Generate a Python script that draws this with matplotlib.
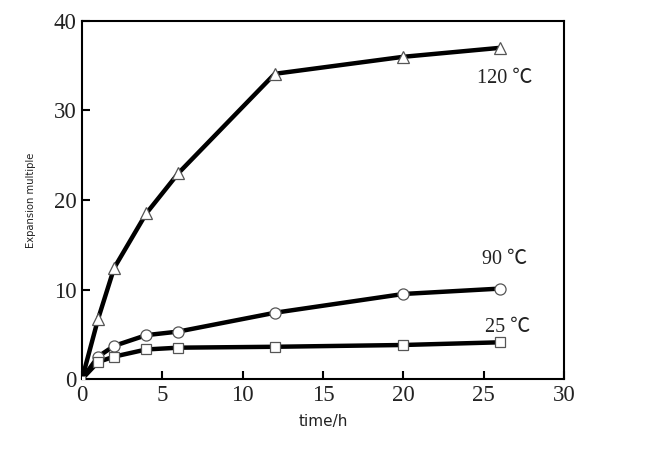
import matplotlib
matplotlib.use("Agg")
import matplotlib.pyplot as plt

time_h = [0, 1, 2, 4, 6, 12, 20, 26]
exp_120 = [0, 6.7, 12.4, 18.5, 23.0, 34.1, 36.0, 37.0]
exp_90 = [0, 2.5, 3.7, 4.9, 5.3, 7.4, 9.5, 10.1]
exp_25 = [0, 1.9, 2.5, 3.3, 3.5, 3.6, 3.8, 4.1]
labels = ["120 ℃", "90 ℃", "25 ℃"]
xticks = [0, 5, 10, 15, 20, 25, 30]
yticks = [0, 10, 20, 30, 40]

fig = plt.figure(figsize=(6.55, 4.55), dpi=100)
ax = fig.add_axes([82/655, 1-379/455, (564-82)/655, (379-21)/455])

serif = ["Liberation Serif", "Noto Sans CJK SC", "DejaVu Sans"]
for y, m, ms in [(exp_120, "^", 8), (exp_90, "o", 8), (exp_25, "s", 7)]:
    ax.plot(time_h, y, color="black", lw=3.2, zorder=2)
    ax.plot(time_h[1:], y[1:], ls="none", marker=m, ms=ms, mfc="white",
            mec="#555555", mew=0.9, zorder=3)
ax.plot([0], [0], ls="none", marker="s", ms=4, mfc="white", mec="#777777", mew=0.6, zorder=3)

ax.text(26.3, 33.6, labels[0], fontsize=14.5, family=serif, ha="center", va="center", color="#222222")
ax.text(26.3, 13.3, labels[1], fontsize=14.5, family=serif, ha="center", va="center", color="#222222")
ax.text(26.5, 5.8, labels[2], fontsize=14.5, family=serif, ha="center", va="center", color="#222222")

ax.set_xlim(0, 30)
ax.set_ylim(0, 40)
ax.set_xticks(xticks)
ax.set_yticks(yticks)
ax.set_xticklabels([str(t) for t in xticks], family=serif, fontsize=16.5, color="#222222")
ax.set_yticklabels([str(t) for t in yticks], family=serif, fontsize=16.5, color="#222222")
ax.tick_params(direction="in", length=6, width=1.5, top=False, right=False, pad=4)
for s in ax.spines.values():
    s.set_linewidth(1.5)

ax.set_xlabel("time/h", fontsize=11, family="DejaVu Sans", labelpad=6, color="#222222")
ax.set_ylabel("Expansion multiple", fontsize=7.2, family="DejaVu Sans", labelpad=13, color="#222222")

fig.savefig("out.png", dpi=100)
